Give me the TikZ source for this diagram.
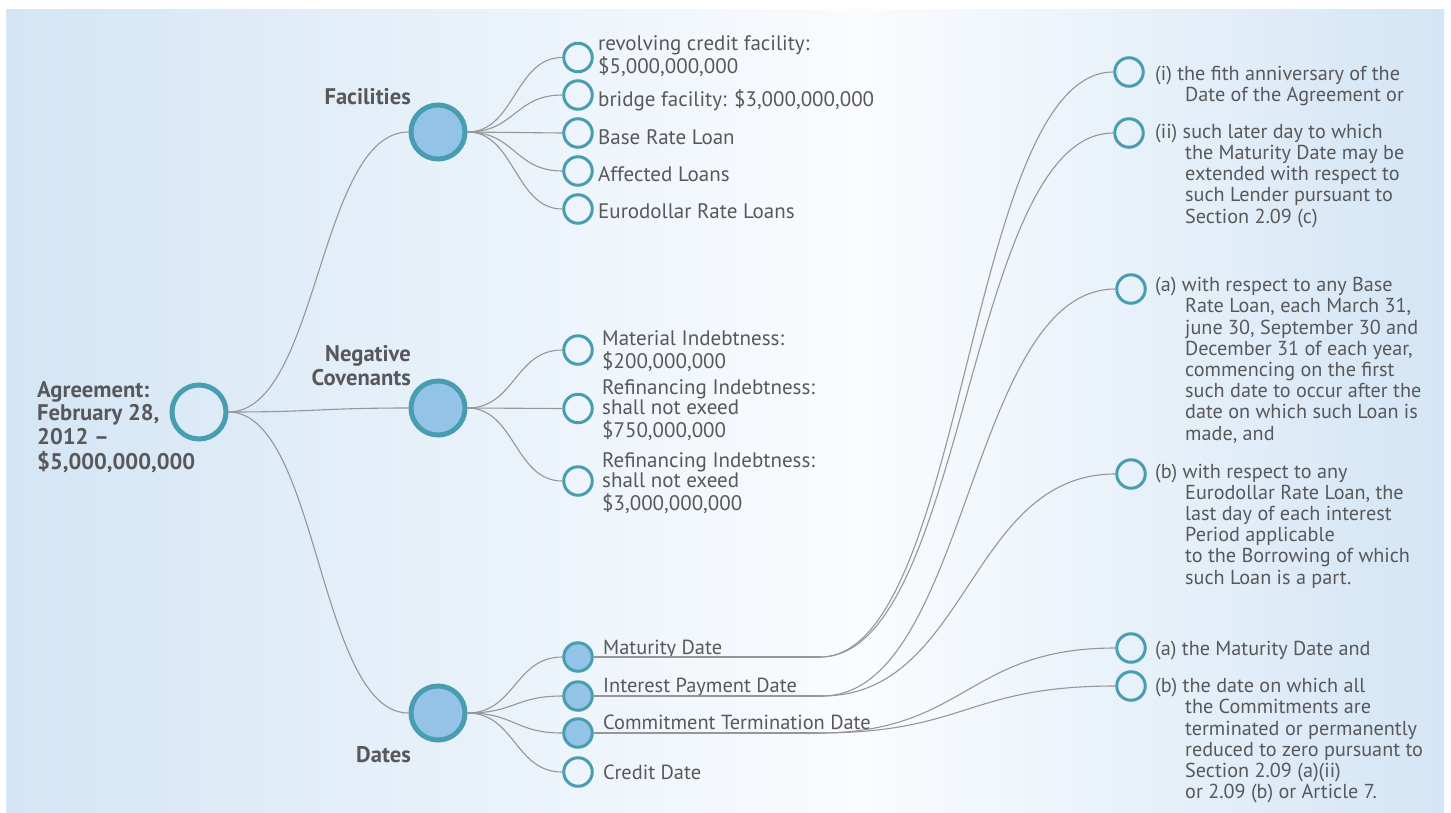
\documentclass[tikz,border=0pt]{standalone}
\usepackage{fontspec}
\setmainfont{PT Sans}
\usetikzlibrary{calc}
\definecolor{bgblue}{RGB}{212,229,245}
\definecolor{bgwhite}{RGB}{250,252,254}
\definecolor{ringteal}{RGB}{72,158,176}
\definecolor{fillblue}{RGB}{147,196,232}
\definecolor{txtgray}{RGB}{88,88,90}
\definecolor{linkgray}{RGB}{150,150,150}
\newcommand\dlink[2]{\draw[link] let \p1=(#1), \p2=(#2) in (\p1) .. controls ({0.5*\x1+0.5*\x2},\y1) and ({0.5*\x1+0.5*\x2},\y2) .. (\p2);}
\newcommand\ind{\hspace*{30pt}}
\begin{document}
\begin{tikzpicture}[x=1pt,y=-1pt,
  bigring/.style={circle,draw=ringteal,line width=5pt,minimum size=54pt,inner sep=0pt},
  bigfill/.style={bigring,fill=fillblue},
  leaf/.style={circle,draw=ringteal,line width=3pt,minimum size=28.5pt,inner sep=0pt},
  leaffill/.style={leaf,fill=fillblue},
  link/.style={draw=linkgray,line width=1.1pt},
  bold/.style={text=txtgray,font=\bfseries\fontsize{22.6}{23.6}\selectfont,inner sep=0pt},
  midtxt/.style={text=txtgray,font=\fontsize{21}{20.8}\selectfont,inner sep=0pt,anchor=base west},
  dattxt/.style={midtxt,font=\fontsize{20.4}{21}\selectfont},
  righttxt/.style={text=txtgray,font=\fontsize{20.2}{21.2}\selectfont,inner sep=0pt,anchor=base west},
]
\useasboundingbox (0,0) rectangle (1451,812);
\fill[white] (0,0) rectangle (1451,812);
\shade[left color=bgblue,right color=bgwhite] (6,9) rectangle (861,812);
\shade[left color=bgwhite,right color=bgblue] (860,9) rectangle (1444,812);

% main nodes
\node[bigring] (root) at (199,412) {};
\node[bigfill] (fac) at (438,132) {};
\node[bigfill] (neg) at (438,408) {};
\node[bigfill] (dat) at (438,713) {};

\node[bold,anchor=base west] (rootlab) at (37,397.3)
  {\begin{tabular}[t]{@{}l@{}}Agreement:\\February 28,\\2012 –\\\$5,000,000,000\end{tabular}};
\node[bold,anchor=base east] (faclab) at (411,104.3) {Facilities};
\node[bold,anchor=base east] (neglab) at (411,361.7)
  {\begin{tabular}[t]{@{}r@{}}Negative\\Covenants\end{tabular}};
\node[bold,anchor=base east] (datlab) at (411,762.7) {Dates};

% facilities children
\node[leaf] (f1) at (578,57.5) {};
\node[leaf] (f2) at (578,95) {};
\node[leaf] (f3) at (578,133) {};
\node[leaf] (f4) at (578,171) {};
\node[leaf] (f5) at (578,209) {};
\node[midtxt] (f1t) at (598,50) {\begin{tabular}[t]{@{}l@{}}revolving credit facility:\\\$5,000,000,000\end{tabular}};
\node[midtxt] (f2t) at (598,106.7) {bridge facility: \$3,000,000,000};
\node[midtxt] (f3t) at (598,144.3) {Base Rate Loan};
\node[midtxt] (f4t) at (598,181.7) {Affected Loans};
\node[midtxt] (f5t) at (598,218.5) {Eurodollar Rate Loans};

% negative covenants children
\node[leaf] (n1) at (578,350) {};
\node[leaf] (n2) at (578,408.5) {};
\node[leaf] (n3) at (578,481) {};
\node[midtxt] (n1t) at (602,345) {\begin{tabular}[t]{@{}l@{}}Material Indebtness:\\\$200,000,000\end{tabular}};
\node[midtxt] (n2t) at (602,394) {\begin{tabular}[t]{@{}l@{}}Refinancing Indebtness:\\shall not exeed\\\$750,000,000\end{tabular}};
\node[midtxt] (n3t) at (602,467) {\begin{tabular}[t]{@{}l@{}}Refinancing Indebtness:\\shall not exeed\\\$3,000,000,000\end{tabular}};

% dates children
\node[leaffill] (d1) at (578,657) {};
\node[leaffill] (d2) at (578,696) {};
\node[leaffill] (d3) at (578,733) {};
\node[leaf] (d4) at (578,772) {};
\node[dattxt] (d1t) at (603,654.5) {Maturity Date};
\node[dattxt] (d2t) at (603,692) {Interest Payment Date};
\node[dattxt] (d3t) at (603,729.5) {Commitment Termination Date};
\node[dattxt] (d4t) at (603,779) {Credit Date};

% right column
\node[leaf] (r1) at (1129,72) {};
\node[leaf] (r2) at (1129,133) {};
\node[leaf] (r3) at (1131,289) {};
\node[leaf] (r4) at (1131,474) {};
\node[leaf] (r5) at (1131,648) {};
\node[leaf] (r6) at (1131,686) {};
\node[righttxt] (r1t) at (1155,80) {\begin{tabular}[t]{@{}l@{}}(i) the fith anniversary of the\\\ind Date of the Agreement or\end{tabular}};
\node[righttxt] (r2t) at (1155,138.3) {\begin{tabular}[t]{@{}l@{}}(ii) such later day to which\\\ind the Maturity Date may be\\\ind extended with respect to\\\ind such Lender pursuant to\\\ind Section 2.09 (c)\end{tabular}};
\node[righttxt] (r3t) at (1155,291.7) {\begin{tabular}[t]{@{}l@{}}(a) with respect to any Base\\\ind Rate Loan, each March 31,\\\ind june 30, September 30 and\\\ind December 31 of each year,\\\ind commencing on the first\\\ind such date to occur after the\\\ind date on which such Loan is\\\ind made, and\end{tabular}};
\node[righttxt] (r4t) at (1155,478) {\begin{tabular}[t]{@{}l@{}}(b) with respect to any\\\ind Eurodollar Rate Loan, the\\\ind last day of each interest\\\ind Period applicable\\\ind to the Borrowing of which\\\ind such Loan is a part.\end{tabular}};
\node[righttxt] (r5t) at (1155,655.7) {(a) the Maturity Date and};
\node[righttxt] (r6t) at (1155,692.7) {\begin{tabular}[t]{@{}l@{}}(b) the date on which all\\\ind the Commitments are\\\ind terminated or permanently\\\ind reduced to zero pursuant to\\\ind Section 2.09 (a)(ii)\\\ind or 2.09 (b) or Article 7.\end{tabular}};

% junctions
\coordinate (j1) at (820,657);
\coordinate (j2) at (822,696);
\coordinate (j3) at (818,733);

% links
\dlink{root.east}{fac.west}
\dlink{root.east}{neg.west}
\dlink{root.east}{dat.west}
\foreach \c in {f1,f2,f3,f4,f5} {\dlink{fac.east}{\c.west}}
\foreach \c in {n1,n2,n3} {\dlink{neg.east}{\c.west}}
\foreach \c in {d1,d2,d3,d4} {\dlink{dat.east}{\c.west}}
\draw[link] (d1.east) -- (j1);
\draw[link] (d2.east) -- (j2);
\draw[link] (d3.east) -- (j3);
\dlink{j1}{r1.west}
\dlink{j1}{r2.west}
\dlink{j2}{r3.west}
\dlink{j2}{r4.west}
\dlink{j3}{r5.west}
\dlink{j3}{r6.west}
\end{tikzpicture}
\end{document}
